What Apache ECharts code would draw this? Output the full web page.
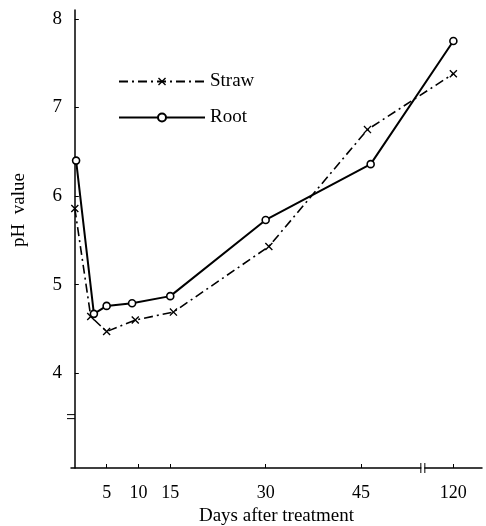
<!DOCTYPE html>
<html><head><meta charset="utf-8">
<script src="https://cdn.jsdelivr.net/npm/echarts@6/dist/echarts.min.js"></script>
<style>html,body{margin:0;padding:0;background:#fff}#c{width:486px;height:526px}</style>
</head><body><div id="c"></div>
<script>
// ---- data ----
const strawDays = [0, 2.5, 5, 9.5, 15.5, 30.5, 46, 120];
const strawPH   = [5.86, 4.64, 4.47, 4.60, 4.69, 5.43, 6.75, 7.38];
const rootDays  = [0.2, 3, 5, 9, 15, 30, 46.5, 120];
const rootPH    = [6.40, 4.67, 4.76, 4.79, 4.87, 5.73, 6.36, 7.75];
const xTickDays   = [5, 10, 15, 30, 45, 120];
const xTickLabels = ['5', '10', '15', '30', '45', '120'];
const yTickValues = [4, 5, 6, 7, 8];
const yTickLabels = ['4', '5', '6', '7', '8'];

// broken x-axis: days after the break are compressed
const BREAK_FROM = 50, COMPRESS = 9.5 / 70;
function axisPos(d) { return d <= BREAK_FROM ? d : BREAK_FROM + (d - BREAK_FROM) * COMPRESS; }
const xTickPos = xTickDays.map(axisPos);

const FONT = '"Liberation Serif", "DejaVu Serif", serif';
const X_MARK = 'path://M0,1.2L1.2,0L5,3.8L8.8,0L10,1.2L6.2,5L10,8.8L8.8,10L5,6.2L1.2,10L0,8.8L3.8,5Z';

const chart = echarts.init(document.getElementById('c'));
chart.setOption({
  backgroundColor: '#fff',
  animation: false,
  grid: { left: 71, right: 4, top: 10, bottom: 58, containLabel: false, outerBoundsMode: 'none' },
  legend: {
    orient: 'vertical', left: 113, top: 67,
    itemWidth: 86, itemHeight: 10, itemGap: 17,
    textStyle: { fontFamily: FONT, fontSize: 19, color: '#000', padding: [4, 0, 0, 0] },
    data: ['Straw', 'Root']
  },
  xAxis: {
    type: 'value', min: -0.6, max: 64,
    name: 'Days after treatment', nameLocation: 'middle', nameGap: 38,
    nameTextStyle: { fontFamily: FONT, fontSize: 19, color: '#000' },
    axisLine: { show: true, lineStyle: { color: '#000', width: 1.5 } },
    axisTick: { show: true, inside: true, length: 4, customValues: xTickPos, lineStyle: { color: '#000' } },
    axisLabel: {
      customValues: xTickPos, margin: 16,
      fontFamily: FONT, fontSize: 18, color: '#000',
      formatter: v => { const i = xTickPos.findIndex(p => Math.abs(p - v) < 1e-6); return i >= 0 ? xTickLabels[i] : ''; }
    },
    splitLine: { show: false }
  },
  yAxis: {
    type: 'value', min: 2.93, max: 8.1,
    name: 'pH  value', nameLocation: 'middle', nameGap: 42, nameRotate: 90,
    nameTextStyle: { fontFamily: FONT, fontSize: 19, color: '#000', padding: [0, 0, 0, 58] },
    axisLine: { show: true, lineStyle: { color: '#000', width: 1.5 } },
    axisTick: { show: true, inside: true, length: 4, customValues: yTickValues, lineStyle: { color: '#000' } },
    axisLabel: {
      customValues: yTickValues, margin: 9,
      fontFamily: FONT, fontSize: 19, color: '#000',
      formatter: v => { const i = yTickValues.findIndex(p => Math.abs(p - v) < 1e-6); return i >= 0 ? yTickLabels[i] : ''; }
    },
    splitLine: { show: false }
  },
  series: [
    {
      name: 'Straw', type: 'line',
      data: strawDays.map((d, i) => [axisPos(d), strawPH[i]]),
      symbol: X_MARK, symbolSize: 8,
      lineStyle: { color: '#000', width: 1.6, type: [9, 4, 2, 4] },
      itemStyle: { color: '#000' }
    },
    {
      name: 'Root', type: 'line',
      data: rootDays.map((d, i) => [axisPos(d), rootPH[i]]),
      symbol: 'circle', symbolSize: 7, showAllSymbol: true,
      lineStyle: { color: '#000', width: 2 },
      itemStyle: { color: '#fff', borderColor: '#000', borderWidth: 1.6 }
    }
  ]
});

// axis-break marks, positioned through the chart's own scales
const xb = chart.convertToPixel({ gridIndex: 0 }, [54.7, 2.93]);
const yb = chart.convertToPixel({ gridIndex: 0 }, [-0.6, 3.51]);
chart.setOption({
  graphic: [
    { type: 'rect', shape: { x: xb[0] - 1.5, y: xb[1] - 2, width: 3, height: 4 }, style: { fill: '#fff' }, z: 100 },
    { type: 'line', shape: { x1: xb[0] - 2, y1: xb[1] - 5, x2: xb[0] - 2, y2: xb[1] + 5 }, style: { stroke: '#000', lineWidth: 1 }, z: 101 },
    { type: 'line', shape: { x1: xb[0] + 2, y1: xb[1] - 5, x2: xb[0] + 2, y2: xb[1] + 5 }, style: { stroke: '#000', lineWidth: 1 }, z: 101 },
    { type: 'rect', shape: { x: yb[0] - 2, y: yb[1] - 1.5, width: 4, height: 3 }, style: { fill: '#fff' }, z: 100 },
    { type: 'line', shape: { x1: yb[0] - 4, y1: yb[1] - 2, x2: yb[0] + 4, y2: yb[1] - 2 }, style: { stroke: '#000', lineWidth: 1 }, z: 101 },
    { type: 'line', shape: { x1: yb[0] - 4, y1: yb[1] + 2, x2: yb[0] + 4, y2: yb[1] + 2 }, style: { stroke: '#000', lineWidth: 1 }, z: 101 }
  ]
});
</script>
</body></html>
